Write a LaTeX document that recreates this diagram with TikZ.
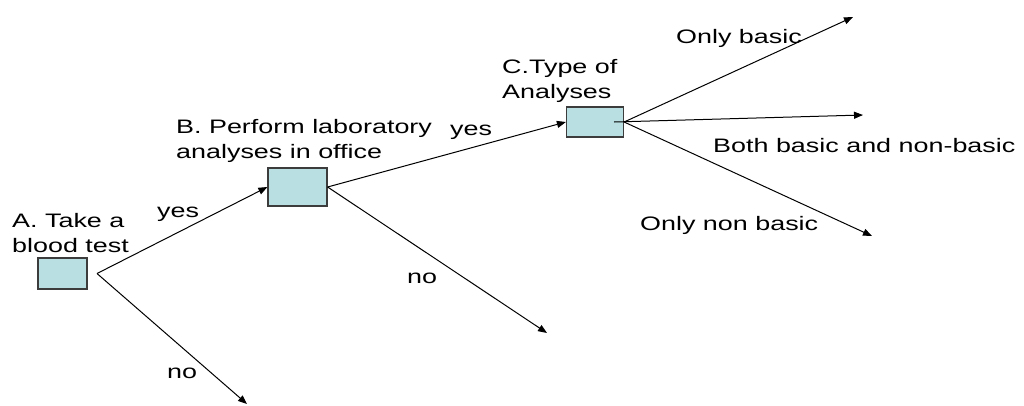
\documentclass[tikz,border=0pt]{standalone}
\usepackage{fontspec}
\setmainfont{Liberation Sans}[FakeStretch=1.38]
\usetikzlibrary{arrows.meta}
\definecolor{boxfill}{RGB}{185,223,226}
\definecolor{boxline}{RGB}{60,60,60}
\begin{document}
\begin{tikzpicture}[x=1pt,y=-1pt,
  decbox/.style={draw=boxline,fill=boxfill,line width=1.2pt,minimum width=#1,inner sep=0pt},
  lbl/.style={anchor=base west,inner sep=0pt,font=\fontsize{19.5}{25}\selectfont,align=left},
  conn/.style={line width=1pt,-{Triangle[length=9pt,width=7pt]}},
  plain/.style={line width=1pt}]
\useasboundingbox (0,0) rectangle (1024,405);
% boxes
\node[decbox=49pt,minimum height=31pt] (A) at (62.5,273.5) {};
\node[decbox=59pt,minimum height=38pt] (B) at (297.5,187) {};
\node[decbox=57pt,minimum height=30pt] (C) at (595,122) {};
% free ends
\coordinate (aOut) at (97,273.5);
\coordinate (aNo) at (247,404);
\coordinate (bNo) at (547,333);
\coordinate (cMid) at (614,122);
\coordinate (c1) at (853,17);
\coordinate (c2) at (863,115);
\coordinate (c3) at (872,236);
% labels (base anchor = baseline of last line)
\node[lbl] (tA) at (12,252) {A. Take a\\blood test};
\node[lbl] (tB) at (176,158) {B. Perform laboratory\\analyses in office};
\node[lbl] (tC) at (502,98) {C.Type of\\Analyses};
\node[lbl] (y1) at (157,217) {yes};
\node[lbl] (n1) at (167,378) {no};
\node[lbl] (y2) at (450,135) {yes};
\node[lbl] (n2) at (407,283) {no};
\node[lbl] (o1) at (676,43) {Only basic};
\node[lbl] (o2) at (713,152) {Both basic and non-basic};
\node[lbl] (o3) at (640,230) {Only non basic};
% connectors
\draw[conn] (aOut) -- (B.west);
\draw[conn] (aOut) -- (aNo);
\draw[conn] (B.east) -- (C.west);
\draw[conn] (B.east) -- (bNo);
\draw[conn] (C.east) -- (c1);
\draw[conn] (cMid) -- (c2);
\draw[conn] (C.east) -- (c3);
\end{tikzpicture}
\end{document}
